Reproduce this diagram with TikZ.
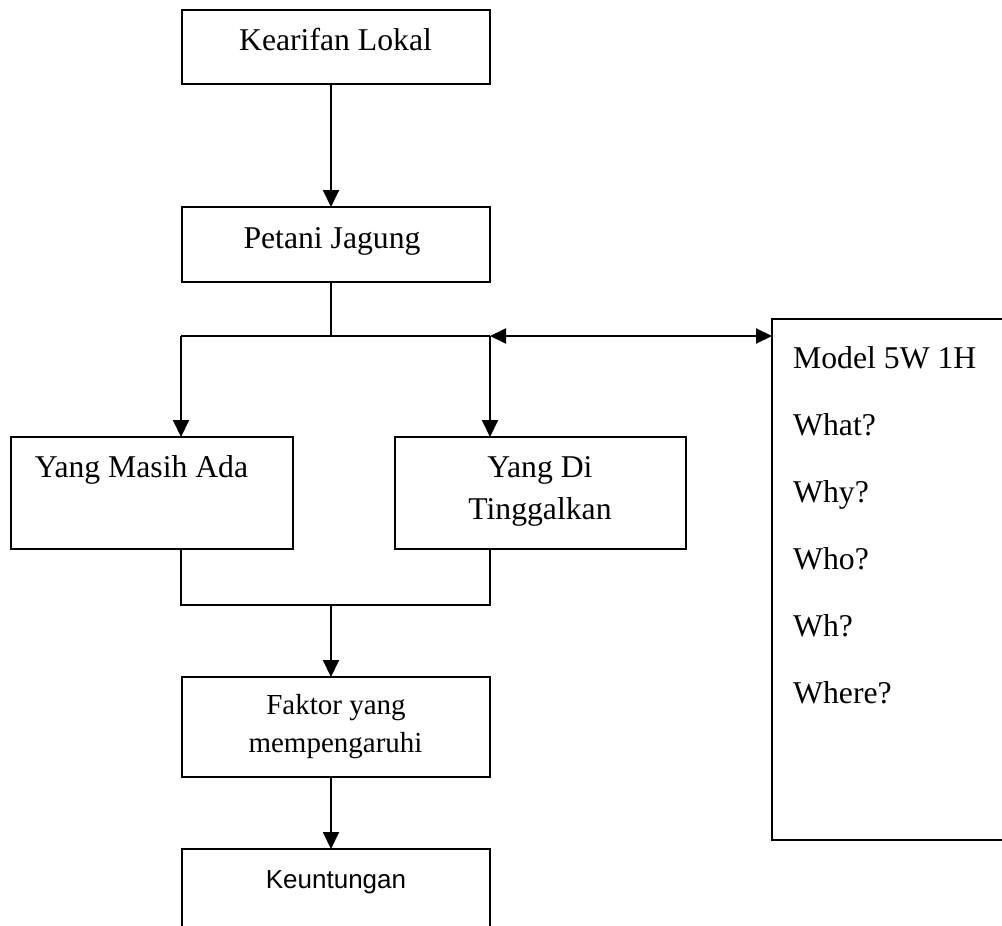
\documentclass[tikz,border=0pt]{standalone}
\usepackage{fontspec}
\setmainfont{Liberation Serif}
\newfontfamily\keufont{Liberation Sans}
\usetikzlibrary{arrows.meta}
\begin{document}
\begin{tikzpicture}[x=1pt,y=-1pt,
  box/.style={draw, line width=2pt, inner sep=0pt, outer sep=0pt, anchor=north west},
  conn/.style={line width=2pt},
  arr/.style={line width=2pt, -{Triangle[length=17pt,width=16pt]}},
  darr/.style={line width=2pt, {Triangle[length=16pt,width=15pt]}-{Triangle[length=16pt,width=15pt]}},
  txt/.style={inner sep=0pt, anchor=base, font=\fontsize{31.7}{38}\selectfont},
  mtxt/.style={inner sep=0pt, anchor=base west, font=\fontsize{31.7}{38}\selectfont},
  ftxt/.style={inner sep=0pt, anchor=base, font=\fontsize{29}{35}\selectfont},
  ktxt/.style={inner sep=0pt, anchor=base, font=\keufont\fontsize{26}{31}\selectfont}]
\useasboundingbox (0,0) rectangle (1002,926);
\clip (0,0) rectangle (1002,926);
% boxes
\node[box, minimum width=308pt, minimum height=74pt] (kear) at (182,10) {};
\node[box, minimum width=308pt, minimum height=75pt] (pet) at (182,207) {};
\node[box, minimum width=282pt, minimum height=112pt] (yma) at (11,437) {};
\node[box, minimum width=291pt, minimum height=112pt] (ydt) at (395,437) {};
\node[box, minimum width=308pt, minimum height=100pt] (fak) at (182,677) {};
\node[box, minimum width=308pt, minimum height=120pt] (keu) at (182,849) {};
\node[box, minimum width=250pt, minimum height=521pt] (model) at (772,319) {};
% texts
\node[txt] (kt) at (335.5,50) {Kearifan Lokal};
\node[txt] (pt) at (332,248) {Petani Jagung};
\node[txt] (ymat) at (141.5,477) {Yang Masih Ada};
\node[txt] (ydt1) at (540,477) {Yang Di};
\node[txt] (ydt2) at (540,519) {Tinggalkan};
\node[ftxt] (ft1) at (336,714) {Faktor yang};
\node[ftxt] (ft2) at (335.5,752) {mempengaruhi};
\node[ktxt] (kt2) at (336,888) {Keuntungan};
\node[mtxt] (m0) at (793,368) {Model 5W 1H};
\node[mtxt] (m1) at (793,435) {What?};
\node[mtxt] (m2) at (793,502) {Why?};
\node[mtxt] (m3) at (793,569) {Who?};
\node[mtxt] (m4) at (793,636) {Wh?};
\node[mtxt] (m5) at (793,703) {Where?};
% coordinates
\coordinate (sp) at (331,336);
\coordinate (spL) at (181,336);
\coordinate (spR) at (490,336);
\coordinate (jC) at (331,605);
\coordinate (jL) at (181,605);
\coordinate (jR) at (490,605);
% connectors
\draw[arr] (kear.south -| sp) -- (pet.north -| sp);
\draw[conn] (pet.south -| sp) -- (sp);
\draw[conn] (spL) -- (spR);
\draw[arr] (spL) -- (yma.north -| spL);
\draw[arr] (spR) -- (ydt.north -| spR);
\draw[darr] (spR) -- (model.west |- spR);
\draw[conn] (yma.south -| jL) -- (jL) -- (jR) -- (ydt.south -| jR);
\draw[arr] (jC) -- (fak.north -| jC);
\draw[arr] (fak.south -| jC) -- (keu.north -| jC);
\end{tikzpicture}
\end{document}
